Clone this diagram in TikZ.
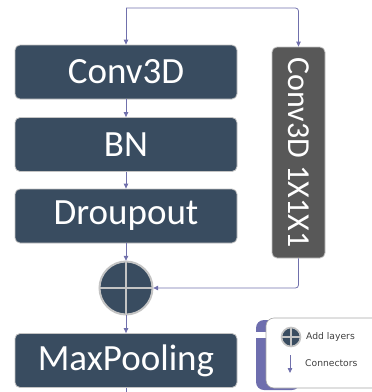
\documentclass[tikz,border=0pt]{standalone}
\usepackage{fontspec}
\setmainfont{Carlito}
\newfontfamily\legendfont{DejaVu Sans}
\usetikzlibrary{arrows.meta}
\definecolor{layerblue}{HTML}{394C60}
\definecolor{layergrey}{HTML}{585858}
\definecolor{linkcol}{HTML}{7070AC}
\definecolor{rimgrey}{HTML}{C4C4C4}
\definecolor{legendpurple}{HTML}{6E6EAE}
\tikzset{
  layerbox/.style={draw=rimgrey, line width=0.8pt, fill=layerblue, rounded corners=5pt,
    minimum width=222pt, minimum height=54pt, inner sep=0pt, text=white,
    font=\fontsize{37}{37}\selectfont},
  sidebox/.style={layerbox, fill=layergrey, minimum width=53pt, minimum height=211pt},
  link/.style={draw=linkcol, line width=0.8pt, rounded corners=3pt,
    -{Triangle[length=5pt,width=4.5pt]}},
  plainlink/.style={draw=linkcol, line width=0.8pt},
  legendtext/.style={anchor=west, text=black!75, inner sep=0pt,
    font=\legendfont\fontsize{9.2}{10}\selectfont},
}
% summation symbol: dark disc, grey cross, grey rim
\newcommand{\sumsymbol}[5]{%
  \fill[layerblue] (#1,#2) circle (#3);
  \draw[rimgrey, line width=#4] (#1-#3,#2) -- (#1+#3,#2) (#1,#2-#3) -- (#1,#2+#3);
  \draw[rimgrey, line width=#5] (#1,#2) circle (#3);
}
\begin{document}
\begin{tikzpicture}[x=1pt, y=1pt]
\useasboundingbox (0,0) rectangle (372,-392);

% main branch
\node[layerbox] (conv) at (126,-72) {Conv3D};
\node[layerbox] (bn)   at (126,-144.5) {BN};
\node[layerbox] (drop) at (126,-216) {Droupout};
\node[circle, minimum size=54pt, inner sep=0pt] (add) at (126,-288) {};
\sumsymbol{126}{-288}{26.5}{2pt}{2pt}
\node[layerbox] (pool) at (126,-360.5) {MaxPooling};

% shortcut branch
\node[sidebox] (side) at (298.5,-152.5) {\rotatebox{-90}{\fontsize{32}{32}\selectfont Conv3D 1X1X1}};

\coordinate (split) at (126,-8);
\coordinate (out) at (126,-392);

% connectors
\draw[link] (split) -- (conv.north);
\draw[link] (split) -| (side.north);
\draw[link] (conv) -- (bn);
\draw[link] (bn) -- (drop);
\draw[link] (drop) -- (add);
\draw[link] (side.south) |- (add.east);
\draw[link] (add) -- (pool);
\draw[plainlink] (pool.south) -- (out);

% legend card
\fill[legendpurple, rounded corners=8pt] (256,-320) rectangle (300,-390);
\fill[white] (254,-332) rectangle (268,-338);
\draw[black!35, fill=white, line width=0.6pt, rounded corners=8pt] (266,-318) rectangle (380,-388);
\node[circle, minimum size=20pt, inner sep=0pt] (keyadd) at (291,-337) {};
\sumsymbol{291}{-337}{9.5}{1.2pt}{1.6pt}
\node[legendtext] (keyaddtxt) at (306,-337) {Add layers};
\coordinate (keytop) at (290,-355);
\coordinate (keybot) at (290,-373);
\draw[link] (keytop) -- (keybot);
\node[legendtext] (keylinktxt) at (305,-363) {Connectors};
\end{tikzpicture}
\end{document}
